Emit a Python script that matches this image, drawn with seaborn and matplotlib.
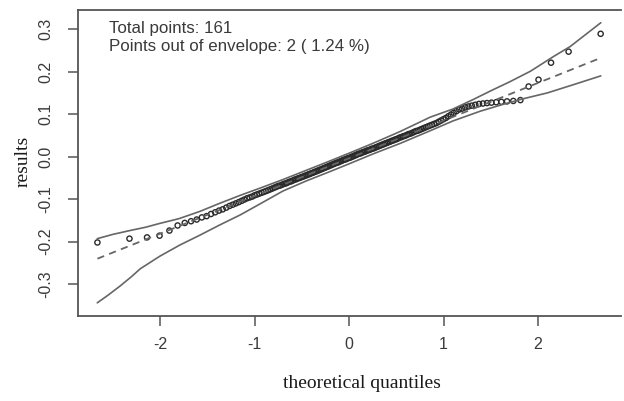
import matplotlib
matplotlib.use("Agg")
import matplotlib.pyplot as plt
import seaborn as sns
from statistics import NormalDist

# ---- data ----
results = [
    -0.202, -0.193, -0.190, -0.186, -0.174, -0.162, -0.156, -0.152, -0.148, -0.143,
    -0.140, -0.135, -0.131, -0.127, -0.124, -0.120, -0.116, -0.113, -0.110, -0.107,
    -0.104, -0.101, -0.098, -0.096, -0.094, -0.091, -0.089, -0.087, -0.085, -0.083,
    -0.081, -0.079, -0.077, -0.075, -0.073, -0.071, -0.069, -0.068, -0.066, -0.064,
    -0.063, -0.061, -0.059, -0.058, -0.056, -0.054, -0.053, -0.051, -0.050, -0.048,
    -0.047, -0.045, -0.044, -0.042, -0.041, -0.039, -0.038, -0.036, -0.035, -0.033,
    -0.032, -0.030, -0.029, -0.027, -0.026, -0.024, -0.023, -0.021, -0.020, -0.018,
    -0.017, -0.015, -0.014, -0.013, -0.011, -0.010, -0.008, -0.007, -0.006, -0.004,
    -0.003,
    -0.002, 0.000, 0.001, 0.003, 0.004, 0.006, 0.007, 0.008, 0.010,
    0.011, 0.012, 0.014, 0.015, 0.016, 0.018, 0.019, 0.020, 0.022, 0.023,
    0.025, 0.026, 0.028, 0.029, 0.031, 0.032, 0.034, 0.035, 0.037, 0.038,
    0.040, 0.041, 0.043, 0.045, 0.046, 0.048, 0.049, 0.051, 0.053, 0.054,
    0.056, 0.058, 0.060, 0.061, 0.063, 0.065, 0.067, 0.069, 0.071, 0.073,
    0.075, 0.077, 0.079, 0.082, 0.085, 0.088, 0.091, 0.095, 0.099, 0.103,
    0.107, 0.111, 0.113, 0.116, 0.118, 0.120, 0.122, 0.124, 0.125, 0.126,
    0.127, 0.128, 0.129, 0.130, 0.131, 0.133,
    0.165, 0.181, 0.221, 0.247, 0.289,
]

env_upper_x = [-2.664, -2.50, -2.32, -2.15, -2.00, -1.80, -1.58, -1.37, -1.15, -0.94,
               -0.70, -0.45, -0.20, 0.00, 0.25, 0.54, 0.86, 1.10, 1.31, 1.52,
               1.70, 1.92, 2.16, 2.34, 2.664]
env_upper_y = [-0.193, -0.183, -0.174, -0.166, -0.157, -0.146, -0.129, -0.110, -0.091, -0.074,
               -0.054, -0.032, -0.010, 0.008, 0.031, 0.059, 0.093, 0.112, 0.134, 0.157,
               0.176, 0.201, 0.235, 0.259, 0.315]

env_lower_x = [-2.664, -2.55, -2.42, -2.30, -2.21, -2.00, -1.79, -1.58, -1.37, -1.15,
               -0.94, -0.70, -0.45, -0.20, 0.00, 0.25, 0.54, 0.86, 1.10, 1.39,
               1.63, 1.84, 2.10, 2.37, 2.664]
env_lower_y = [-0.344, -0.326, -0.304, -0.282, -0.264, -0.234, -0.208, -0.185, -0.161, -0.137,
               -0.111, -0.081, -0.057, -0.035, -0.017, 0.006, 0.031, 0.061, 0.084, 0.107,
               0.123, 0.136, 0.150, 0.169, 0.190]

ref_intercept = -0.004
ref_slope = 0.0887

x_ticks = [-2, -1, 0, 1, 2]
x_tick_labels = ["-2", "-1", "0", "1", "2"]
y_ticks = [-0.3, -0.2, -0.1, 0.0, 0.1, 0.2, 0.3]
y_tick_labels = ["-0.3", "-0.2", "-0.1", "0.0", "0.1", "0.2", "0.3"]

info_lines = ["Total points: 161", "Points out of envelope: 2 ( 1.24 %)"]

# theoretical normal quantiles (Blom plotting positions)
n = len(results)
theo = [NormalDist().inv_cdf((i - 0.375) / (n + 0.25)) for i in range(1, n + 1)]
line_x = [min(theo), max(theo)]
line_y = [ref_intercept + ref_slope * v for v in line_x]

# ---- figure ----
sns.set_theme(style="white")
plt.rcParams["font.family"] = ["Liberation Sans", "DejaVu Sans"]

fig = plt.figure(figsize=(6.24, 4.01), dpi=100)
ax = fig.add_axes([78 / 624, 85 / 401, 543 / 624, 306 / 401])

ink = "#555555"
sns.lineplot(x=env_upper_x, y=env_upper_y, sort=False, color="#666666", lw=1.2, ax=ax)
sns.lineplot(x=env_lower_x, y=env_lower_y, sort=False, color="#666666", lw=1.2, ax=ax)
sns.lineplot(x=line_x, y=line_y, sort=False, color="#666666", lw=1.3,
             linestyle=(0, (4, 3)), ax=ax)
sns.scatterplot(x=theo, y=results, marker="o", facecolors="none",
                edgecolor="#2a2a2a", s=14, linewidth=1.0, ax=ax)

ax.set_xlim(-2.868, 2.878)
ax.set_ylim(-0.375, 0.345)
ax.set_xticks(x_ticks)
ax.set_xticklabels(x_tick_labels)
ax.set_yticks(y_ticks)
ax.set_yticklabels(y_tick_labels, rotation=90, va="center")
ax.tick_params(axis="both", which="major", bottom=True, left=True, top=False, right=False,
               direction="out", length=7, width=1.1, color=ink,
               labelsize=11.5, labelcolor="#3a3a3a")
ax.tick_params(axis="x", pad=8)
ax.tick_params(axis="y", pad=11)
ax.set_xlabel("")
ax.set_ylabel("")

for side in ["left", "bottom", "top"]:
    ax.spines[side].set_visible(True)
    ax.spines[side].set_color(ink)
    ax.spines[side].set_linewidth(1.3)
ax.spines["right"].set_visible(False)

fig.text(109 / 624, 1 - 33 / 401, info_lines[0], fontsize=12.2, color="#3a3a3a", va="baseline")
fig.text(109 / 624, 1 - 50.5 / 401, info_lines[1], fontsize=12.2, color="#3a3a3a", va="baseline")

fig.text(362 / 624, 1 - 383 / 401, "theoretical quantiles", family=["Liberation Serif"],
         fontsize=14, color="#1a1a1a", ha="center", va="center")
fig.text(23 / 624, 1 - 161 / 401, "results", family=["Liberation Serif"],
         fontsize=14, color="#1a1a1a", ha="center", va="center", rotation=90)

fig.savefig("out.png", dpi=100)
